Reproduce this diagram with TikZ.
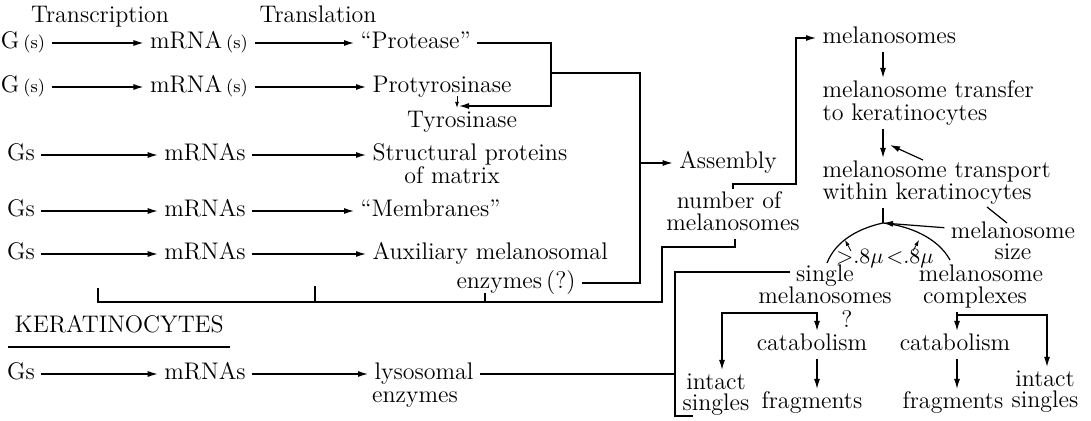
\documentclass[tikz,border=0pt]{standalone}
\usetikzlibrary{arrows.meta}
\begin{document}
\begin{tikzpicture}[x=0.5pt,y=-0.5pt,line width=0.6pt,
  lbl/.style={inner xsep=3pt,inner ysep=1pt,text height=8.5pt,text depth=3pt,font=\fontsize{12}{14}\selectfont},
  sml/.style={lbl,inner xsep=1pt,font=\fontsize{10.5}{12}\selectfont},
  >={Latex[length=5pt,width=3pt]},
  tiny/.style={->,>={Latex[length=3pt,width=2pt]},line width=0.4pt}]
\useasboundingbox (0,0) rectangle (1091,421);

\node[lbl] (hTr) at (100,17) {Transcription};
\node[lbl] (hTl) at (318,17) {Translation};

% melanocyte genes
\node[lbl] (g1) at (23,43) {G\,{\small(s)}};
\node[lbl] (g2) at (23,87) {G\,{\small(s)}};
\node[lbl] (g3) at (21,155) {Gs};
\node[lbl] (g4) at (21,211) {Gs};
\node[lbl] (g5) at (21,254) {Gs};

\node[lbl] (m1) at (199,43) {mRNA\,{\small(s)}};
\node[lbl] (m2) at (199,87) {mRNA\,{\small(s)}};
\node[lbl] (m3) at (205,155) {mRNAs};
\node[lbl] (m4) at (205,211) {mRNAs};
\node[lbl] (m5) at (205,254) {mRNAs};

\node[lbl,anchor=west] (pr) at (354,43) {“Protease”};
\node[lbl,anchor=west] (pt) at (366,87) {Protyrosinase};
\node[lbl] (ty) at (462,122) {Tyrosinase};
\node[lbl,anchor=west] (sp) at (366,155) {Structural proteins};
\node[lbl] (om) at (452,178) {of matrix};
\node[lbl,anchor=west] (mb) at (354,211) {“Membranes”};
\node[lbl,anchor=west] (au) at (366,254) {Auxiliary melanosomal};
\node[lbl] (en) at (516,283) {enzymes\,(?)};

\draw [->] (g1)--(m1); \draw [->] (m1)--(pr);
\draw [->] (g2)--(m2); \draw [->] (m2)--(pt);
\draw [->] (g3)--(m3); \draw [->] (m3)--(sp);
\draw [->] (g4)--(m4); \draw [->] (m4)--(mb);
\draw [->] (g5)--(m5); \draw [->] (m5)--(au);

\node[coordinate] (c1) at (551,43) {};
\node[coordinate] (c2) at (551,106) {};
\node[coordinate] (c3) at (459,106) {};
\node[coordinate] (c4) at (457,96) {};
\draw [->] (pr)--(c1)--(c2)--(c3);
\draw [tiny] (c4)--(ty.north -| c4);

\node[coordinate] (j1) at (551,73) {};
\node[coordinate] (j2) at (640,73) {};
\node[coordinate] (j3) at (640,283) {};
\node[coordinate] (j4) at (640,163) {};
\draw (j1)--(j2)--(j3)--(en);

\node[lbl] (as) at (728,163) {Assembly};
\draw [->] (j4)--(as);

\node[lbl] (nm1) at (729,203) {number of};
\node[lbl] (nm2) at (733,225) {melanosomes};

% bracket under the genes
\node[coordinate] (b1) at (98,288) {};
\node[coordinate] (b2) at (98,302) {};
\node[coordinate] (b3) at (315,286) {};
\node[coordinate] (b4) at (315,302) {};
\node[coordinate] (b5) at (485,293) {};
\node[coordinate] (b6) at (485,302) {};
\node[coordinate] (b7) at (662,302) {};
\node[coordinate] (b8) at (662,247) {};
\node[coordinate] (b9) at (735,247) {};
\draw (b1)--(b2)--(b7)--(b8)--(b9)--(nm2.south -| b9);
\draw (b3)--(b4); \draw (b5)--(b6);

\node[coordinate] (n1) at (733,184) {};
\node[coordinate] (n2) at (796,184) {};
\node[coordinate] (n3) at (796,38) {};

% melanosome pathway
\node[lbl,anchor=west] (ms) at (816,38) {melanosomes};
\node[lbl,anchor=west] (mt1) at (816,92) {melanosome transfer};
\node[lbl,anchor=west] (mt2) at (816,115) {to keratinocytes};
\node[lbl,anchor=west] (mk1) at (816,172) {melanosome transport};
\node[lbl,anchor=west] (mk2) at (816,194) {within keratinocytes};
\draw [->] (n1 |- nm1.north)--(n1)--(n2)--(n3)--(ms);

\node[coordinate] (ax) at (883,0) {};
\node[coordinate] (apex) at (883,223) {};
\draw [->] (ms.south -| ax)--(mt1.north -| ax);
\draw [->] (mt2.south -| ax)--(mk1.north -| ax);
\draw (mk2.south -| ax)--(apex);

\node[coordinate] (d1) at (923,160) {};
\node[coordinate] (d2) at (890,145) {};
\draw [->] (d1)--(d2);
\node[coordinate] (d3) at (987,207) {};
\node[coordinate] (d4) at (1007,223) {};
\draw (d3)--(d4);

\node[lbl] (sz1) at (1013,233) {melanosome};
\node[lbl] (sz2) at (1013,254) {size};
\draw [->] (sz1)--(apex);

\node[coordinate] (lc) at (827,263) {};
\node[coordinate] (rc) at (950,260) {};
\draw (apex) .. controls (860,228) and (836,240) .. (lc);
\draw (apex) .. controls (910,226) and (938,238) .. (rc);

\node[sml] (gt) at (860,258) {${>}.8\mu$};
\node[sml] (lt) at (910,258) {${<}.8\mu$};
\node[coordinate] (t1) at (851,251) {};
\node[coordinate] (t2) at (845,240) {};
\node[coordinate] (t3) at (913,251) {};
\node[coordinate] (t4) at (919,240) {};
\draw [tiny] (t1)--(t2);
\draw [tiny] (t3)--(t4);

\node[lbl] (sm1) at (825,276) {single};
\node[lbl] (sm2) at (825,298) {melanosomes};
\node[lbl] (mc1) at (981,276) {melanosome};
\node[lbl] (mc2) at (975,298) {complexes};

\node[lbl] (qm) at (847,322) {?};
\node[lbl] (cs) at (812,345) {catabolism};
\node[lbl] (fs) at (812,403) {fragments};
\node[lbl] (is1) at (716,384) {intact};
\node[lbl] (is2) at (716,405) {singles};
\node[lbl] (cc) at (955,345) {catabolism};
\node[lbl] (fc) at (953,403) {fragments};
\node[lbl] (ic1) at (1045,381) {intact};
\node[lbl] (ic2) at (1045,402) {singles};

\node[coordinate] (q1) at (817,313) {};
\node[coordinate] (q2) at (722,313) {};
\draw [->] (sm2.south -| q1)--(cs.north -| q1);
\draw [->] (q1)--(q2)--(is1.north -| q2);
\draw [->] (cs.south -| q1)--(fs.north -| q1);

\node[coordinate] (k1) at (957,315) {};
\node[coordinate] (k2) at (1047,315) {};
\draw [->] (mc2.south -| k1)--(cc.north -| k1);
\draw [->] (k1)--(k2)--(ic1.north -| k2);
\draw [->] (cc.south -| k1)--(fc.north -| k1);

% keratinocytes
\node[lbl,anchor=west,inner ysep=4pt] (ke) at (8,327) {KERATINOCYTES};
\draw (ke.south west)--(ke.south east);
\node[lbl] (g6) at (21,374) {Gs};
\node[lbl] (m6) at (205,374) {mRNAs};
\node[lbl,anchor=west] (ly) at (368,374) {lysosomal};
\node[lbl] (lz) at (415,397) {enzymes};
\draw [->] (g6)--(m6); \draw [->] (m6)--(ly);

\node[coordinate] (L1) at (790,272) {};
\node[coordinate] (L2) at (675,272) {};
\node[coordinate] (L3) at (675,416) {};
\node[coordinate] (L4) at (693,416) {};
\draw (L1)--(L2)--(L3)--(L4);
\draw (ly)--(ly -| L2);

\end{tikzpicture}
\end{document}
